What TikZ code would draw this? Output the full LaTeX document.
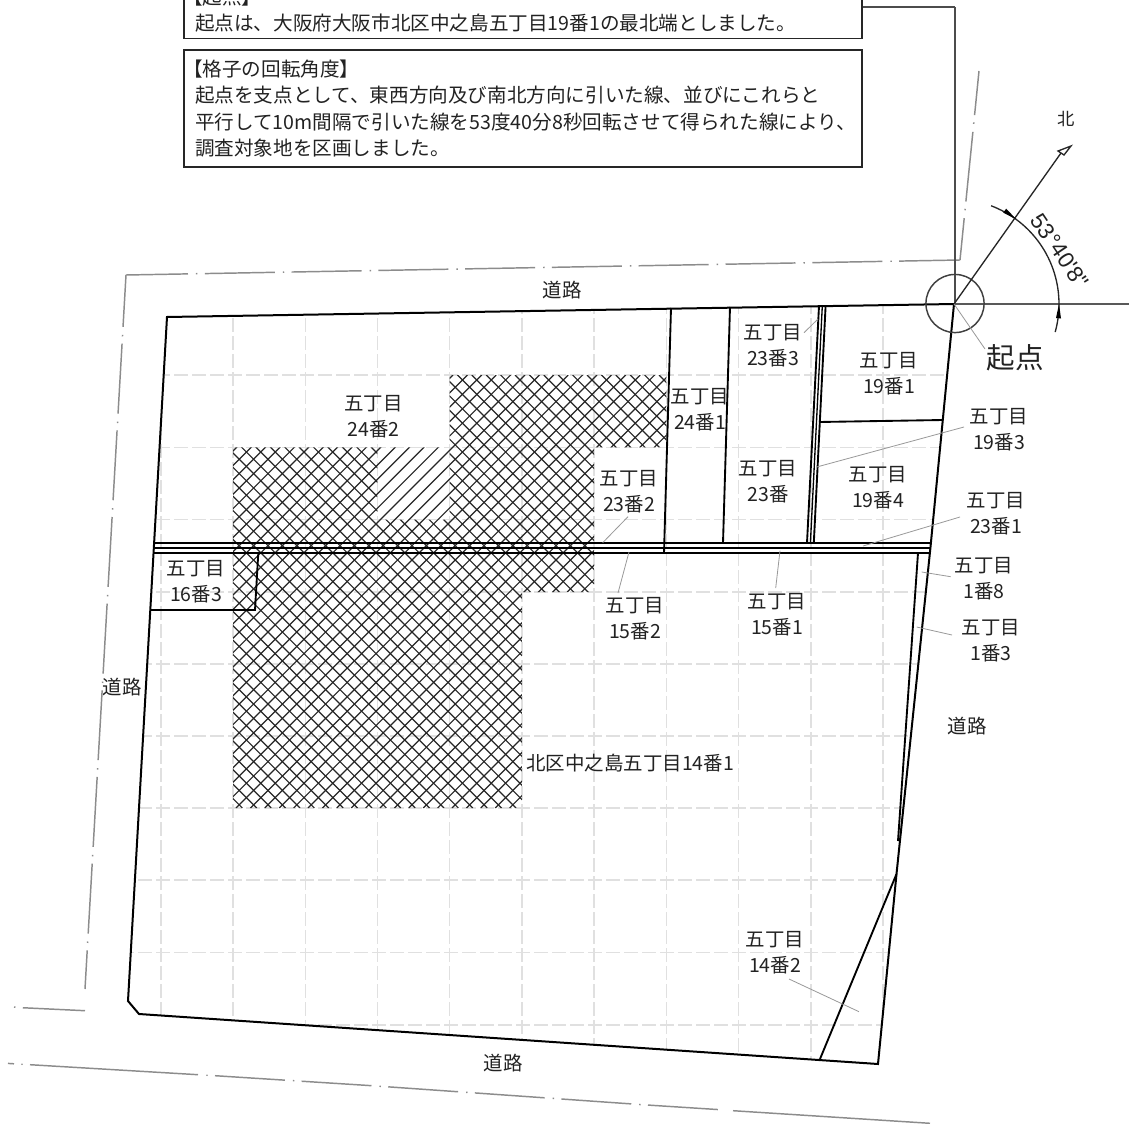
\documentclass[tikz,border=0pt]{standalone}
\usepackage{fontspec}
\setmainfont{Noto Sans CJK JP}
\newfontfamily\cadfont{Liberation Sans}
\definecolor{txt}{HTML}{222222}
\newcommand{\lbrk}{\kern-9pt 【}
\tikzset{
  lab/.style={font=\fontsize{14.6pt}{19.5pt}\selectfont,text=txt,align=center,inner sep=0pt,yshift=-0.75pt},
  boxnode/.style={line width=1.1pt,font=\fontsize{14.7pt}{19.9pt}\selectfont,text=txt,align=left,inner xsep=8pt,inner ysep=0pt,minimum width=508.5pt,text width=492pt},
  parcel/.style={line width=1.5pt,black,line join=miter},
  thinparcel/.style={line width=1.4pt,black},
  leader/.style={line width=0.6pt,black!40},
  road/.style={line width=1.1pt,black!45,dash pattern=on 52.5pt off 6pt on 1.1pt off 5.5pt},
  gridline/.style={line width=1.1pt,black!12,dash pattern=on 10.5pt off 3pt},
  hatchline/.style={line width=0.9pt,black!85},
  dim/.style={line width=1pt,black!85}
}
\begin{document}
\begin{tikzpicture}[x=0.75pt,y=-0.75pt]
\useasboundingbox (0,0) rectangle (1129,1124);
\clip (0,0) rectangle (1129,1124);
\fill[white] (0,0) rectangle (1129,1124);
% grid
\begin{scope}
\clip (167,317) -- (954,304) -- (930.5,547) -- (896.5,874) -- (878,1064) -- (139,1014) -- (128,1001) -- cycle;
\foreach \gx in {161,233,305.3,377.4,449.6,521.8,594,666.3,738.5,810.8,883}
  \draw[gridline] (\gx,300) -- (\gx,1070);
\foreach \gy in {375,447.3,519.6,592,664,736,808,880,952.5,1025}
  \draw[gridline] (120,\gy) -- (960,\gy);
\end{scope}
% hatching
\begin{scope}
\clip (449.6,375) -- (666.3,375) -- (666.3,447.3) -- (594,447.3) -- (594,592) -- (521.8,592) -- (521.8,808) -- (233,808) -- (233,447.3) -- (377.4,447.3) -- (377.4,519.6) -- (449.6,519.6) -- cycle;
\foreach \i in {0,...,62}
  \draw[hatchline] ({-580+14.4*\i+375},375) -- ({-580+14.4*\i+808},808);
\end{scope}
\begin{scope}
\clip (449.6,375) -- (666.3,375) -- (666.3,447.3) -- (594,447.3) -- (594,592) -- (521.8,592) -- (521.8,808) -- (233,808) -- (233,447.3) -- (449.6,447.3) -- cycle;
\foreach \i in {0,...,62}
  \draw[hatchline] ({612+14.4*\i-375},375) -- ({612+14.4*\i-808},808);
\end{scope}
% road lines
\draw[road,dash phase=13.5pt] (126,275) -- (85,989);
\draw[road,dash phase=6pt] (126,275) -- (960,260);
\draw[road,dash phase=21pt] (960,260) -- (979,71);
\draw[road,dash pattern=on 1.1pt off 5.5pt on 141pt off 100pt] (14,1007) -- (22,1007.7) -- (85,1010.7);
\draw[road,solid] (8,1063.4) -- (14,1063.8);
\fill[black!45] (22,1064.2) circle[radius=0.6pt];
\draw[road,solid] (30,1064.7) -- (198,1074.7);
\fill[black!45] (207,1075.2) circle[radius=0.6pt];
\draw[road] (215,1075.7) -- (372,1085.7) -- (647,1105) -- (725,1110);
\draw[road,solid] (733,1110.7) -- (930,1123.3);
% parcel outline
\draw[parcel] (167,317) -- (954,304) -- (930.5,547) -- (896.5,874) -- (878,1064) -- (139,1014) -- (128,1001) -- cycle;
\draw[thinparcel] (671,308) -- (664,553);
\draw[thinparcel] (730,307) -- (723,543);
\draw[thinparcel] (819,306) -- (807,543);
\draw[line width=1pt,black] (822.3,306) -- (810.4,543);
\draw[thinparcel] (825.6,306) -- (813.8,543);
\draw[thinparcel] (819,422) -- (943,420);
\draw[thinparcel] (154,543) -- (931,543);
\draw[line width=0.8pt,black] (154,548) -- (931,548);
\draw[thinparcel] (153,553) -- (930,553);
\draw[thinparcel] (258.3,553) -- (255,610) -- (150.5,610);
\draw[line width=1.4pt,black] (918,553) -- (898,841);
\draw[line width=1.4pt,black] (896.5,874) -- (820,1059);
% compass
\draw[line width=1.1pt,black!70] (955,7) -- (862,7);
\draw[line width=1.1pt,black!70] (955,7) -- (955,304);
\draw[line width=1.1pt,black!65] (954,304) -- (1129,304);
\draw[line width=1.1pt,black!75] (955,303.5) circle[radius=21.8pt];
\draw[dim] (954,304) -- (1061,153);
\draw[dim,fill=white] (1071,146) -- (1058,151) -- (1064,155) -- cycle;
\draw[dim,domain=69.3:-15.5,samples=40,smooth] plot ({954+105*cos(\x)},{304-105*sin(\x)});
\fill[black] (1016,219) -- (1003.2,212.7) -- (1006.2,208.7) -- cycle;
\fill[black] (1059,304) -- (1056,318) -- (1061,318.5) -- cycle;
% leaders
\draw[leader] (804,332.7) -- (818,319);
\draw[leader] (964,427) -- (816.7,467);
\draw[leader] (960,517) -- (863,546);
\draw[leader] (950.7,576.7) -- (921.7,572);
\draw[leader] (952,635) -- (916.7,627);
\draw[leader] (775.7,588) -- (780,550.7);
\draw[leader] (618,593) -- (629,552);
\draw[leader] (628,516.7) -- (602.7,542.7);
\draw[leader] (789,979) -- (859,1011.7);
\draw[leader] (954,304) -- (985,349);
% boxes
\node[boxnode] (box1) at (523,10) {\lbrk 起点】\\起点は、大阪府大阪市北区中之島五丁目19番1の最北端としました。};
\draw[line width=1.1pt,black!85] (184,-25) rectangle (862,38.7);
\node[boxnode,draw=black!85,minimum height=87.7pt] (box2) at (523,108.5) {\lbrk 格子の回転角度】\\起点を支点として、東西方向及び南北方向に引いた線、並びにこれらと\\平行して10m間隔で引いた線を53度40分8秒回転させて得られた線により、\\調査対象地を区画しました。};
% labels
\node[lab] (l242) at (373.5,416) {五丁目\\24番2};
\node[lab] (l163) at (196,581) {五丁目\\16番3};
\node[lab] (l232) at (629,491) {五丁目\\23番2};
\node[lab] (l241) at (700,409) {五丁目\\24番1};
\node[lab] (l233) at (773,344.5) {五丁目\\23番3};
\node[lab] (l23) at (768,480.5) {五丁目\\23番};
\node[lab] (l191) at (889,373) {五丁目\\19番1};
\node[lab] (l194) at (878,487) {五丁目\\19番4};
\node[lab] (l193) at (999,429) {五丁目\\19番3};
\node[lab] (l231) at (996,513) {五丁目\\23番1};
\node[lab] (l18) at (984,578) {五丁目\\1番8};
\node[lab] (l13) at (991,640) {五丁目\\1番3};
\node[lab] (l151) at (777,614) {五丁目\\15番1};
\node[lab] (l152) at (635,618) {五丁目\\15番2};
\node[lab] (l142) at (775,952) {五丁目\\14番2};
\node[lab,anchor=west] (l141) at (526,762.5) {北区中之島五丁目14番1};
\node[lab] (r1) at (562,289) {道路};
\node[lab] (r2) at (122,686) {道路};
\node[lab] (r3) at (967,725) {道路};
\node[lab] (r4) at (503,1062) {道路};
\node[lab,font=\fontsize{21.4pt}{24pt}\selectfont] (kiten) at (1015,357) {起点};
\node[lab,font=\fontsize{13pt}{14pt}\selectfont] (north) at (1066,118) {北};
\node[inner sep=0pt,rotate=-56,font=\cadfont\fontsize{17pt}{18pt}\selectfont,text=txt] (angle) at (1060,251) {53°40'8"};
\end{tikzpicture}
\end{document}
